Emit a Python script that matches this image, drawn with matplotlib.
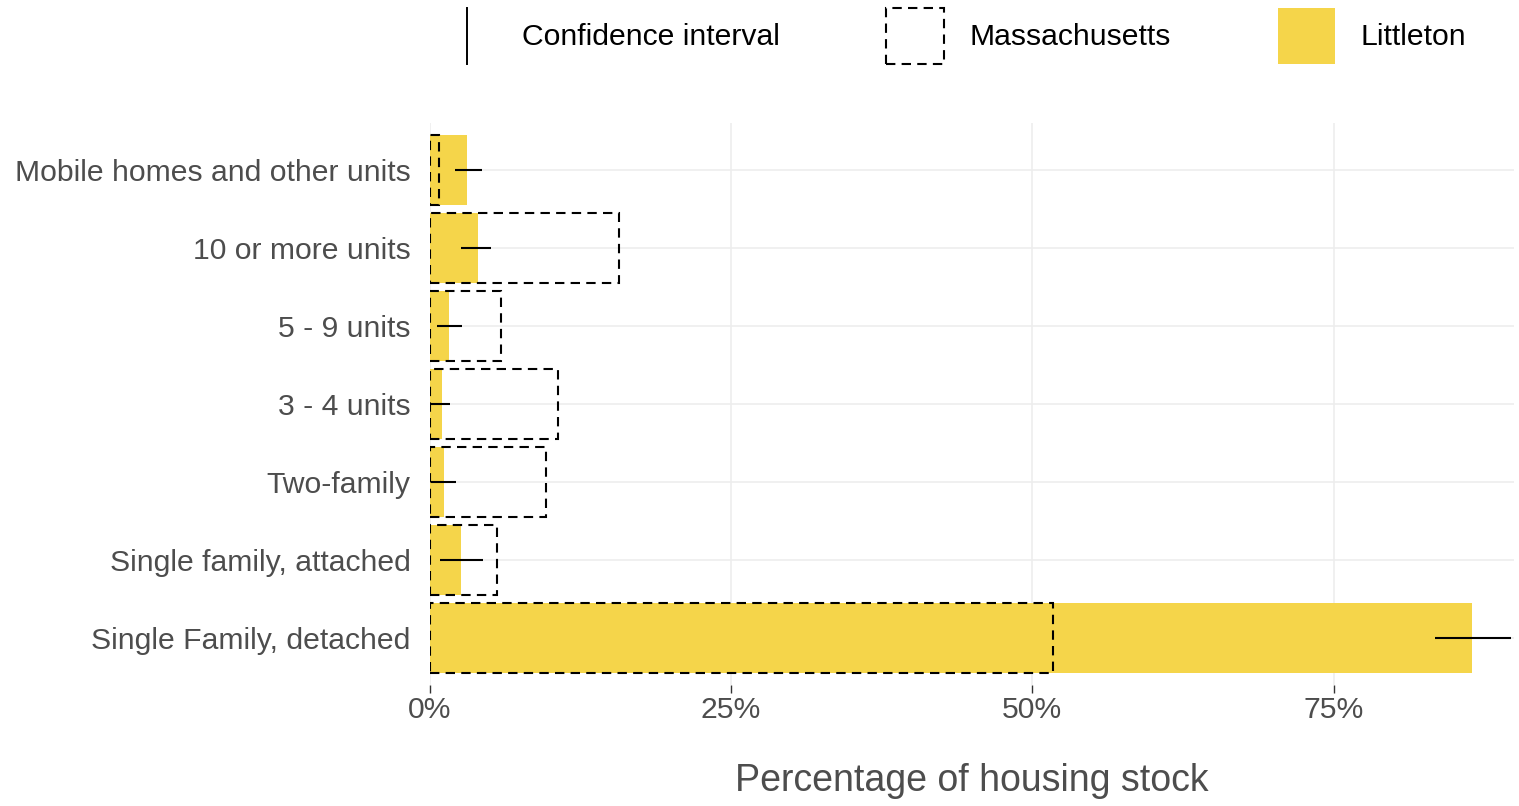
import matplotlib
matplotlib.use("Agg")
import matplotlib.pyplot as plt
from matplotlib.lines import Line2D
from matplotlib.patches import Patch
from matplotlib.legend_handler import HandlerBase
from matplotlib.ticker import FuncFormatter

plt.rcParams['font.family'] = ['Liberation Sans', 'DejaVu Sans']

# housing types, bottom to top
categories = ["Single Family, detached", "Single family, attached", "Two-family",
              "3 - 4 units", "5 - 9 units", "10 or more units",
              "Mobile homes and other units"]
littleton = [86.5, 2.6, 1.2, 1.0, 1.6, 4.0, 3.1]
ci_low = [83.4, 0.8, 0.1, 0.1, 0.6, 2.6, 2.1]
ci_high = [89.7, 4.4, 2.2, 1.7, 2.7, 5.1, 4.3]
massachusetts = [51.7, 5.6, 9.6, 10.6, 5.9, 15.7, 0.75]
x_ticks = [0, 25, 50, 75]

YELLOW = '#F5D54A'
GREY_TXT = '#4d4d4d'
DASH = (0, (4.5, 3))


class VLineHandler(HandlerBase):
    # legend key drawn as a vertical line, like ggplot's errorbar key
    def create_artists(self, legend, orig_handle, xdescent, ydescent,
                       width, height, fontsize, trans):
        x = -xdescent + width / 2
        line = Line2D([x, x], [-ydescent, height - ydescent],
                      color='black', lw=1.4)
        line.set_transform(trans)
        return [line]


fig = plt.figure(figsize=(15.19, 8.06), dpi=100)
ax = fig.add_axes([0.283, 0.150, 0.714, 0.697])

ypos = list(range(len(categories)))
ax.barh(ypos, littleton, height=0.9, color=YELLOW, zorder=2)
ax.barh(ypos, massachusetts, height=0.9, fill=False, edgecolor='black',
        linestyle=DASH, lw=1.5, zorder=3)
ax.hlines(ypos, ci_low, ci_high, color='black', lw=1.5, zorder=4)

ax.set_xlim(0, 90)
ax.set_ylim(-0.6, len(categories) - 0.4)
ax.set_xticks(x_ticks)
ax.xaxis.set_major_formatter(FuncFormatter(lambda v, p: f"{v:.0f}%"))
ax.set_yticks(ypos)
ax.set_yticklabels(categories)

for s in ax.spines.values():
    s.set_visible(False)
ax.grid(True, color='#ededed', lw=1.2, zorder=0)
ax.set_axisbelow(True)
ax.tick_params(axis='y', length=0, pad=14, labelsize=21.7, labelcolor=GREY_TXT)
ax.tick_params(axis='x', length=6, width=1, color='#333333', pad=2,
               labelsize=21.7, labelcolor=GREY_TXT)
ax.set_xlabel("Percentage of housing stock", fontsize=27, color=GREY_TXT,
              labelpad=28)

ci_handle = Line2D([], [], color='black')
ma_handle = Patch(facecolor='white', edgecolor='black', linestyle=DASH, lw=1.5)
lit_handle = Patch(facecolor=YELLOW, edgecolor='none')
fig.legend([ci_handle, ma_handle, lit_handle],
           ["Confidence interval", "Massachusetts", "Littleton"],
           handler_map={Line2D: VLineHandler()},
           loc='center', bbox_to_anchor=(0.627, 0.955), ncol=3,
           frameon=False, fontsize=21.7, handlelength=1.9, handleheight=2.5,
           handletextpad=0.85, columnspacing=3.55)

plt.savefig("out.png", dpi=100)
plt.close()
